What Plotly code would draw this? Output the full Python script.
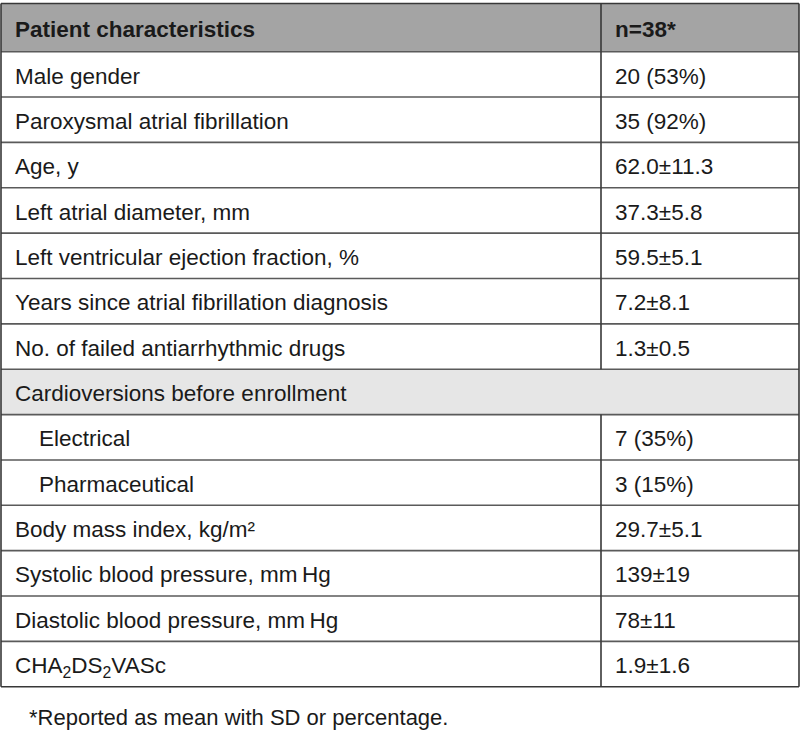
import plotly.graph_objects as go

# ---------------- data ----------------
header_labels = ["Patient characteristics", "n=38*"]
characteristics = [
    "Male gender",
    "Paroxysmal atrial fibrillation",
    "Age, y",
    "Left atrial diameter, mm",
    "Left ventricular ejection fraction, %",
    "Years since atrial fibrillation diagnosis",
    "No. of failed antiarrhythmic drugs",
    "Cardioversions before enrollment",
    "Electrical",
    "Pharmaceutical",
    "Body mass index, kg/m\u00b2",
    "Systolic blood pressure, mm\u2009Hg",
    "Diastolic blood pressure, mm\u2009Hg",
    "CHA<sub>2</sub>DS<sub>2</sub>VASc",
]
values = [
    "20 (53%)",
    "35 (92%)",
    "62.0\u00b111.3",
    "37.3\u00b15.8",
    "59.5\u00b15.1",
    "7.2\u00b18.1",
    "1.3\u00b10.5",
    None,
    "7 (35%)",
    "3 (15%)",
    "29.7\u00b15.1",
    "139\u00b119",
    "78\u00b111",
    "1.9\u00b11.6",
]
group_row = "Cardioversions before enrollment"
group_items = ["Electrical", "Pharmaceutical"]
footnote = "*Reported as mean with SD or percentage."

# ---------------- styling / layout ----------------
W, H = 800, 735
FONT = "Liberation Sans"
FS = 22.5
TXT = "#1a1a1a"
OUTER = "#383838"
INNER = "#5a5a5a"
LW = 1.6
HEAD_FILL = "#a4a4a4"
GROUP_FILL = "#e6e6e6"
TOP = 3.5
HEAD_H = 48.2
ROW_H = 45.36
X0, X1 = 1.0, 799.0
COLW = [600, 198]
PAD = 14
INDENT = 38
TEXT_DY = 3.5

n = len(characteristics)
edges = [TOP, TOP + HEAD_H] + [TOP + HEAD_H + (i + 1) * ROW_H for i in range(n)]
centers = [(edges[i] + edges[i + 1]) / 2 + TEXT_DY for i in range(n + 1)]
XDIV = X0 + (X1 - X0) * COLW[0] / sum(COLW)

fig = go.Figure()

# fills
shapes = [dict(type="rect", xref="x", yref="y", x0=X0, x1=X1, y0=edges[0], y1=edges[1],
               fillcolor=HEAD_FILL, line=dict(width=0), layer="below")]
gi = characteristics.index(group_row)
shapes.append(dict(type="rect", xref="x", yref="y", x0=X0, x1=X1, y0=edges[gi + 1],
                   y1=edges[gi + 2], fillcolor=GROUP_FILL, line=dict(width=0), layer="below"))

# horizontal rules
for k, yv in enumerate(edges):
    outer = k == 0 or k == len(edges) - 1
    shapes.append(dict(type="line", xref="x", yref="y", x0=X0, x1=X1, y0=yv, y1=yv,
                       line=dict(color=OUTER if outer else INNER, width=LW)))
# outer verticals
for xv in (X0, X1):
    shapes.append(dict(type="line", xref="x", yref="y", x0=xv, x1=xv, y0=edges[0], y1=edges[-1],
                       line=dict(color=OUTER, width=LW)))
# column divider, skipping the merged group row
for r in range(n + 1):
    if r >= 1 and characteristics[r - 1] == group_row:
        continue
    shapes.append(dict(type="line", xref="x", yref="y", x0=XDIV, x1=XDIV,
                       y0=edges[r], y1=edges[r + 1], line=dict(color=OUTER, width=LW)))

# header text
fig.add_trace(go.Scatter(
    x=[X0 + PAD, XDIV + PAD], y=[centers[0]] * 2, mode="text",
    text=["<b>%s</b>" % h for h in header_labels], textposition="middle right",
    textfont=dict(family=FONT, size=FS, color=TXT), hoverinfo="skip", cliponaxis=False,
))
# first column
fig.add_trace(go.Scatter(
    x=[X0 + (INDENT if t in group_items else PAD) for t in characteristics],
    y=centers[1:], mode="text", text=characteristics, textposition="middle right",
    textfont=dict(family=FONT, size=FS, color=TXT), hoverinfo="skip", cliponaxis=False,
))
# second column
vx = [XDIV + PAD for v in values if v is not None]
vy = [c for c, v in zip(centers[1:], values) if v is not None]
fig.add_trace(go.Scatter(
    x=vx, y=vy, mode="text", text=[v for v in values if v is not None],
    textposition="middle right",
    textfont=dict(family=FONT, size=FS, color=TXT), hoverinfo="skip", cliponaxis=False,
))

fig.add_annotation(
    text=footnote, xref="paper", yref="paper",
    x=27 / W, y=1 - 717 / H, xanchor="left", yanchor="middle",
    showarrow=False, font=dict(family=FONT, size=22, color=TXT),
)

fig.update_layout(
    width=W, height=H,
    margin=dict(l=0, r=0, t=0, b=0),
    paper_bgcolor="white", plot_bgcolor="white",
    showlegend=False, shapes=shapes,
    xaxis=dict(range=[0, W], visible=False, fixedrange=True, domain=[0, 1]),
    yaxis=dict(range=[H, 0], visible=False, fixedrange=True, domain=[0, 1]),
)
fig.write_html(
    "out.html",
    config=dict(displayModeBar=False, staticPlot=True),
    post_script="document.body.style.margin='0';document.body.style.overflow='hidden';",
)
